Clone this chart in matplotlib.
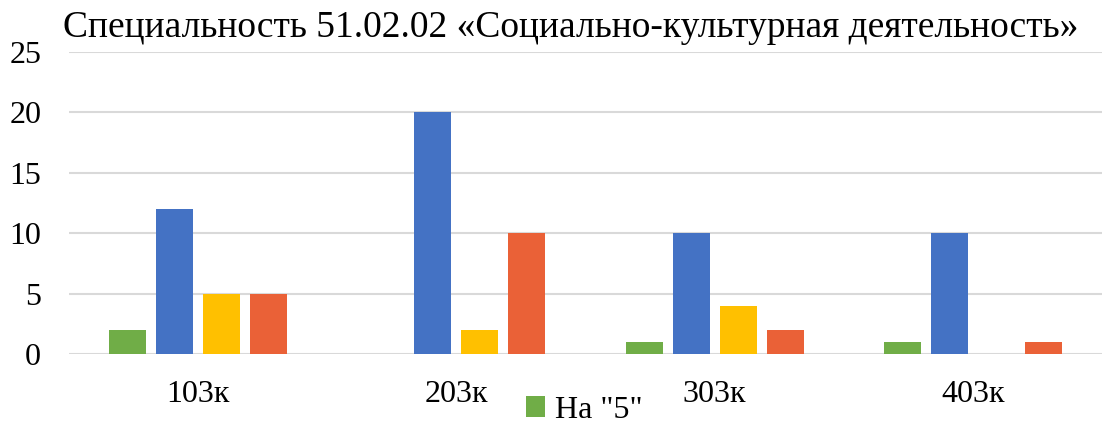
import numpy as np
import matplotlib
matplotlib.use('Agg')
import matplotlib.pyplot as plt

# === DATA ===
groups = ['103к', '203к', '303к', '403к']
na_5 = [2, 0, 1, 1]
blue_vals = [12, 20, 10, 10]
yellow_vals = [5, 2, 4, 0]
orange_vals = [5, 10, 2, 1]
yticks = [0, 5, 10, 15, 20, 25]

plt.rcParams['font.family'] = ['Liberation Serif', 'DejaVu Serif']

fig = plt.figure(figsize=(11.02, 4.23), dpi=100)
ax = fig.add_axes([0.0626, 0.163, 0.9374, 0.715])

x = np.arange(len(groups))
width = 0.143
step = 0.182
series = [
    (na_5, '#70AD47', 'На "5"'),
    (blue_vals, '#4472C4', None),
    (yellow_vals, '#FFC000', None),
    (orange_vals, '#EA6137', None),
]
handles = []
for i, (vals, col, lab) in enumerate(series):
    b = ax.bar(x + (i - 1.5) * step, vals, width, color=col, zorder=3)
    if lab:
        handles.append((b, lab))

ax.set_xlim(-0.5, 3.5)
ax.set_ylim(0, 25)
ax.set_yticks(yticks)
ax.set_xticks(x)
ax.set_xticklabels(groups)
ax.tick_params(axis='both', length=0, labelsize=23)
ax.tick_params(axis='x', pad=19)
ax.tick_params(axis='y', pad=20)
ax.grid(axis='y', color='#D9D9D9', linewidth=1.5, zorder=0)
for s in ax.spines.values():
    s.set_visible(False)

fig.text(0.057, 0.9125, 'Специальность 51.02.02 «Социально-культурная деятельность»',
         fontsize=27, ha='left', va='baseline')

fig.legend([h[0] for h in handles], [h[1] for h in handles],
           loc='center', bbox_to_anchor=(0.530, 0.03), frameon=False,
           fontsize=23, handlelength=0.6, handleheight=0.6, handletextpad=0.3,
           borderpad=0, borderaxespad=0)

plt.savefig('out.png', dpi=100)
